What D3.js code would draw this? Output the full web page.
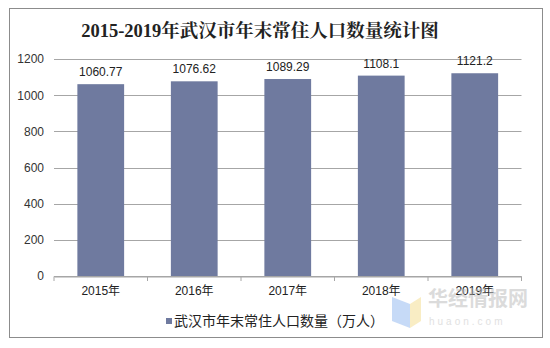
<!DOCTYPE html>
<html><head><meta charset="utf-8">
<script src="https://cdn.jsdelivr.net/npm/d3@7/dist/d3.min.js"></script>
<style>body{margin:0;background:#fff}svg{display:block}</style>
</head><body>
<svg id="c" width="550" height="348"></svg>
<script>
const title = "2015-2019年武汉市年末常住人口数量统计图";
const categories = ["2015年","2016年","2017年","2018年","2019年"];
const values = [1060.77, 1076.62, 1089.29, 1108.1, 1121.2];
const valueLabels = ["1060.77","1076.62","1089.29","1108.1","1121.2"];
const yTicks = [0,200,400,600,800,1000,1200];
const seriesName = "武汉市年末常住人口数量（万人）";

const svg = d3.select("#c");
const font = "Arial, 'Liberation Sans', 'Noto Sans CJK SC', sans-serif";
svg.append("rect").attr("x",9.5).attr("y",8.5).attr("width",533).attr("height",329)
  .attr("fill","#fff").attr("stroke","#8c8c8c").attr("stroke-width",1);

svg.append("text").attr("x",260).attr("y",37).attr("text-anchor","middle")
  .attr("font-family","'Liberation Serif','Noto Serif CJK SC','Noto Sans CJK SC',serif")
  .attr("font-weight","bold").attr("font-size",18.5).attr("fill","#222").text(title);

const x = d3.scaleBand().domain(categories).range([54,521.5]).paddingInner(0.5).paddingOuter(0.25);
const y = d3.scaleLinear().domain([0,1200]).range([276,59]);

const g = svg.append("g");
g.selectAll("line.grid").data(yTicks).join("line").attr("class","grid")
  .attr("x1",54).attr("x2",521.5).attr("y1",d=>Math.round(y(d))+0.5).attr("y2",d=>Math.round(y(d))+0.5)
  .attr("stroke","#a6a6a6").attr("stroke-width",1);

const yAxis = d3.axisLeft(y).tickValues(yTicks).tickFormat(d3.format("d")).tickSize(0).tickPadding(10);
const ya = svg.append("g").attr("transform","translate(54,0)").call(yAxis);
ya.select(".domain").remove();
ya.selectAll("text").attr("font-family",font).attr("font-size",12).attr("fill","#333");

g.selectAll("rect.bar").data(values).join("rect").attr("class","bar")
  .attr("x",(d,i)=>x(categories[i])).attr("width",x.bandwidth())
  .attr("y",d=>y(d)).attr("height",d=>y(0)-y(d)).attr("fill","#6f7a9f");

g.selectAll("text.lbl").data(values).join("text").attr("class","lbl")
  .attr("x",(d,i)=>x(categories[i])+x.bandwidth()/2).attr("y",d=>y(d)-8)
  .attr("text-anchor","middle").attr("font-family",font).attr("font-size",12).attr("fill","#222")
  .text((d,i)=>valueLabels[i]);

const xAxis = d3.axisBottom(x).tickSize(0).tickPadding(10);
const xa = svg.append("g").attr("transform","translate(0,276.5)").call(xAxis);
xa.select(".domain").attr("stroke","#a6a6a6");
xa.selectAll("text").attr("font-family",font).attr("font-size",12).attr("fill","#222");
const sep = d3.range(categories.length+1).map(i=>54+i*x.step());
svg.selectAll("line.sep").data(sep).join("line").attr("class","sep")
  .attr("x1",d=>d).attr("x2",d=>d).attr("y1",276.5).attr("y2",281).attr("stroke","#a6a6a6");

// watermark
const wm = svg.append("g").attr("opacity",0.5);
wm.append("path").attr("d","M392,297 L410,304 L410,328 L392,321 Z").attr("fill","#8fb6f0");
wm.append("path").attr("d","M410,304 L421,297 L421,321 L410,328 Z").attr("fill","#f5dc8a");
wm.append("text").attr("x",428).attr("y",306).attr("font-family","'Noto Sans CJK SC',sans-serif")
  .attr("font-size",20).attr("font-weight","bold").attr("fill","#b8b8b8").text("华经情报网");
wm.append("text").attr("x",429).attr("y",325).attr("font-family",font)
  .attr("font-size",10).attr("letter-spacing",3).attr("fill","#c4c4c4").text("huaon.com");

// legend
const lg = svg.append("g");
lg.append("rect").attr("x",166).attr("y",318).attr("width",6).attr("height",6).attr("fill","#6f7a9f");
lg.append("text").attr("x",174).attr("y",326).attr("font-family","'Noto Sans CJK SC',sans-serif")
  .attr("font-size",14).attr("fill","#222").text(seriesName);
</script>
</body></html>
